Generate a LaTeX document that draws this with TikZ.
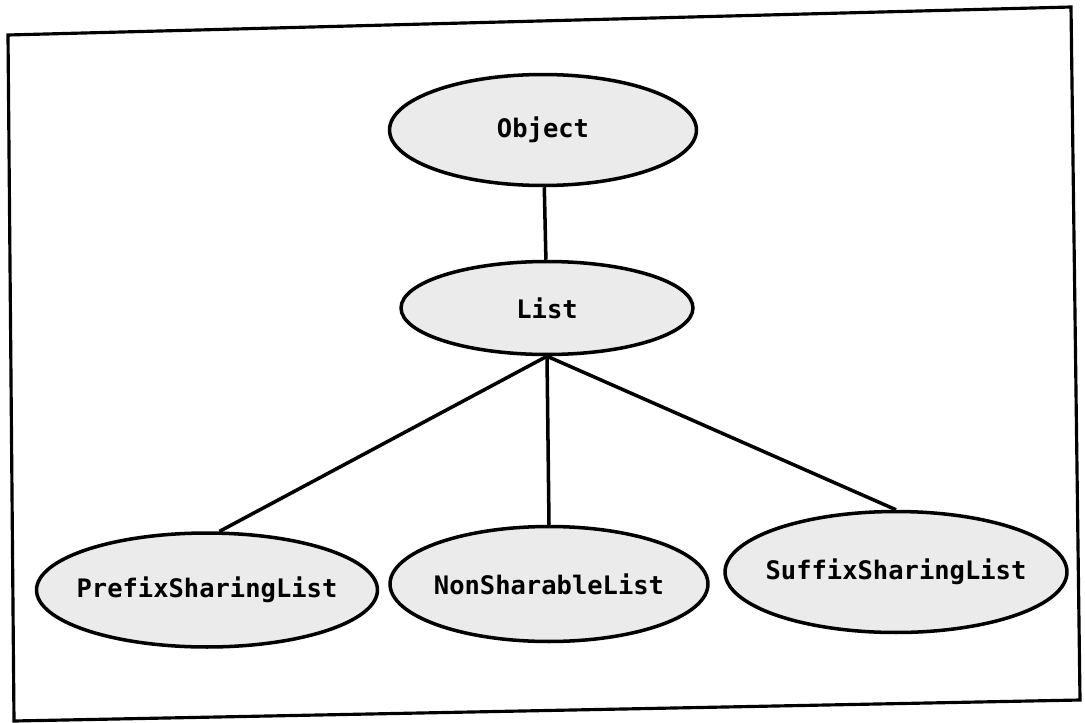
\documentclass[tikz,border=0pt]{standalone}
\usepackage{fontspec}
\setmonofont{DejaVu Sans Mono}
\usepackage{tikz}
\usetikzlibrary{shapes.geometric}

\begin{document}
\begin{tikzpicture}[x=0.02cm, y=-0.02cm,
  every node/.style={font=\ttfamily\bfseries\fontsize{14.5}{16}\selectfont}, % bitmap-like labels
  cls/.style={ellipse, draw=black, line width=2pt, fill=black!8, inner xsep=-0.2cm, inner ysep=0pt},
  link/.style={draw=black, line width=2pt}]
  \useasboundingbox (0,0) rectangle (1085,723);

  % Frame (scan is slightly skewed)
  \draw[line width=1.8pt] (8,35) -- (1071,7) -- (1080,700) -- (14,721) -- cycle;

  % Classes
  \node[cls, minimum width=6.14cm, minimum height=2.22cm] (obj) at (543,130) {Object};
  \node[cls, minimum width=5.84cm, minimum height=1.86cm] (lst) at (547,308) {List};

  % Subclasses
  \node[cls, minimum width=6.82cm, minimum height=2.28cm] (pre) at (207,590) {PrefixSharingList};
  \node[cls, minimum width=6.36cm, minimum height=2.30cm] (non) at (549,584) {NonSharableList};
  \node[cls, minimum width=6.84cm, minimum height=2.42cm] (suf) at (896,572) {SuffixSharingList};

  % Inheritance links
  \draw[link] (obj) -- (lst);
  \draw[link] (lst.south) -- (pre.78);
  \draw[link] (lst.south) -- (non.north);
  \draw[link] (lst.south) -- (suf.north);
\end{tikzpicture}
\end{document}
